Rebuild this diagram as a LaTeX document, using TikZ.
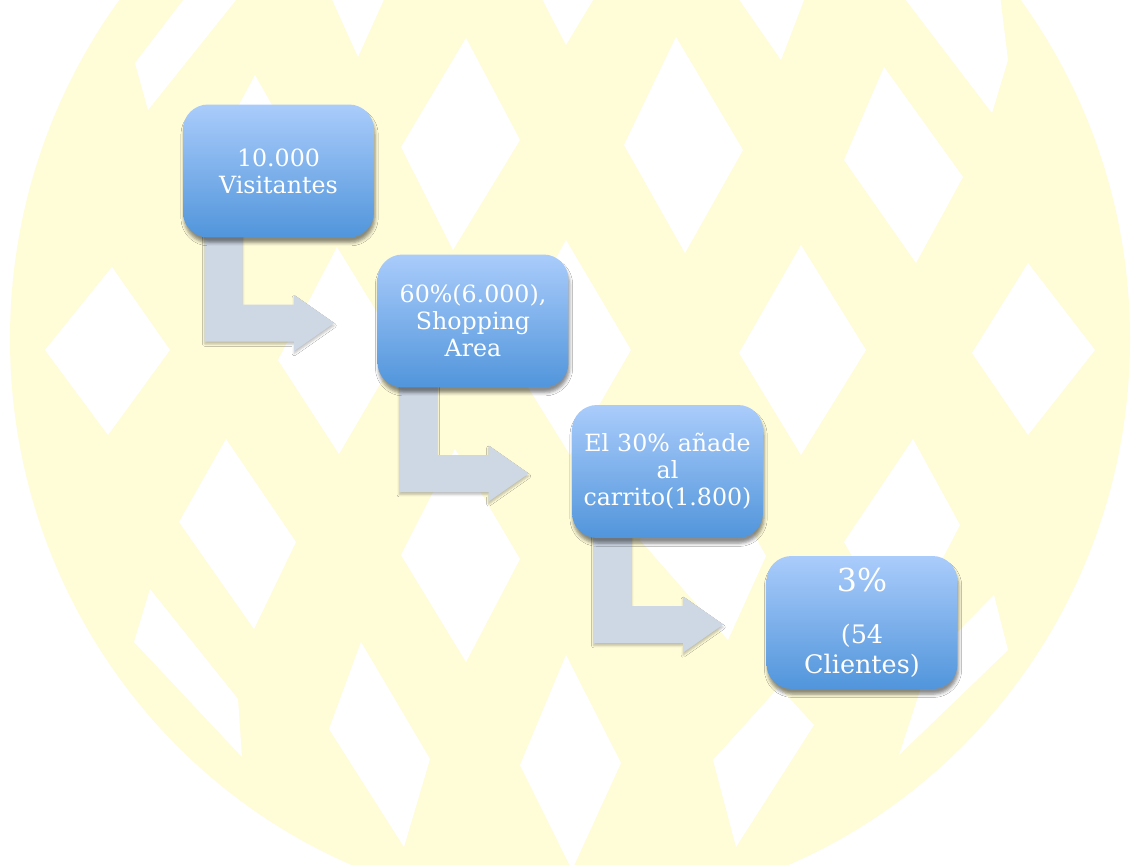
\documentclass[tikz,border=0pt]{standalone}
\usepackage{fontspec}
\setmainfont{DejaVu Serif}
\usetikzlibrary{calc,backgrounds,shadows.blur}

\definecolor{amarillo}{RGB}{255,252,216}
\definecolor{azulsup}{RGB}{170,204,251}
\definecolor{azulinf}{RGB}{81,149,219}
\definecolor{grisflecha}{RGB}{206,216,229}

\begin{document}
\begin{tikzpicture}[x=0.02cm,y=-0.02cm,
    paso/.style={rounded corners=0.5cm, top color=azulsup, bottom color=azulinf,
        minimum width=3.82cm, minimum height=2.66cm, text width=3.6cm,
        align=center, text=white, inner sep=0pt,
        font=\fontsize{13.5}{15.4}\selectfont,
        blur shadow={shadow xshift=0.6pt, shadow yshift=-3pt,
            shadow blur radius=1.8pt, shadow opacity=45}},
    flecha/.style={fill=grisflecha,
        blur shadow={shadow xshift=0pt, shadow yshift=-1.5pt,
            shadow blur radius=1.2pt, shadow opacity=25}},
    rombo/.style={fill=white}]

    \useasboundingbox (0,0) rectangle (1132,865);

    % pasos del embudo
    \node[paso] (visitas) at (278.5,171) {10.000\\Visitantes};
    \node[paso] (shopping) at (473,321) {60\%(6.000),\\Shopping\\Area};
    \node[paso] (carrito) at (667.5,471.5) {El 30\% añade\\al\\carrito(1.800)};
    \node[paso, font=\fontsize{14.5}{17}\selectfont] (clientes) at (862,622.5)
        {{\fontsize{18}{20}\selectfont 3\%}\\[12.5pt](54\\Clientes)};

    \begin{scope}[on background layer]
        \clip (0,0) rectangle (1132,865);
        \fill[white] (0,0) rectangle (1132,865);

        % marca de agua
        \fill[amarillo] (570,339) ellipse [x radius=560, y radius=571];
        \foreach \ax/\ay/\bx/\by/\cx/\cy/\dx/\dy in {
            135/63/187/-5/240/-5/148/110,
            330/-5/386/-5/358/57/358/57,
            540/-5/596/-5/566/45/566/45,
            736/-5/806/-5/781/60/781/60,
            902/-5/1000/-5/1008/60/992/113,
            255/75/300/155/262/236/212/155,
            466/38/520/140/453/250/401/147,
            676/37/743/150/685/253/624/145,
            884/67/963/177/916/263/844/160,
            112/267/170/350/108/435/45/350,
            337/247/400/350/339/454/278/360,
            566/240/631/350/570/455/505/350,
            801/245/866/350/801/455/739/353,
            1028/263/1095/350/1028/435/972/353,
            226/439/296/542/254/629/179/522,
            455/449/520/559/466/662/401/555,
            690/420/766/556/728/640/640/540,
            913/439/960/525/900/640/844/542,
            150/589/238/699/242/757/134/642,
            994/595/1008/650/899/755/930/660,
            361/642/430/759/404/847/329/729,
            566/655/621/763/572/870/520/765,
            779/687/814/725/736/847/713/760}
            \fill[rombo] (\ax,\ay) -- (\bx,\by) -- (\cx,\cy) -- (\dx,\dy) -- cycle;

        % flechas acodadas
        \foreach \a/\b in {visitas/shopping, shopping/carrito, carrito/clientes} {
            \coordinate (pa) at ($(\a.south west)+(22,-10)$);
            \coordinate (pb) at ($(\a.south west)+(60,-10)$);
            \coordinate (pt) at ($(\b.west)+(-43,2)$);
            \coordinate (pl) at ($(pt)+(-40,18.5)$);
            \coordinate (pu) at ($(pt)+(-40,-18.5)$);
            \coordinate (hl) at ($(pt)+(-40,28)$);
            \coordinate (hu) at ($(pt)+(-40,-28)$);
            \path[flecha] (pa) -- (pa |- pl) -- (pl) -- (hl) -- (pt) -- (hu)
                -- (pu) -- (pb |- pu) -- (pb) -- cycle;
        }
    \end{scope}

\end{tikzpicture}
\end{document}
